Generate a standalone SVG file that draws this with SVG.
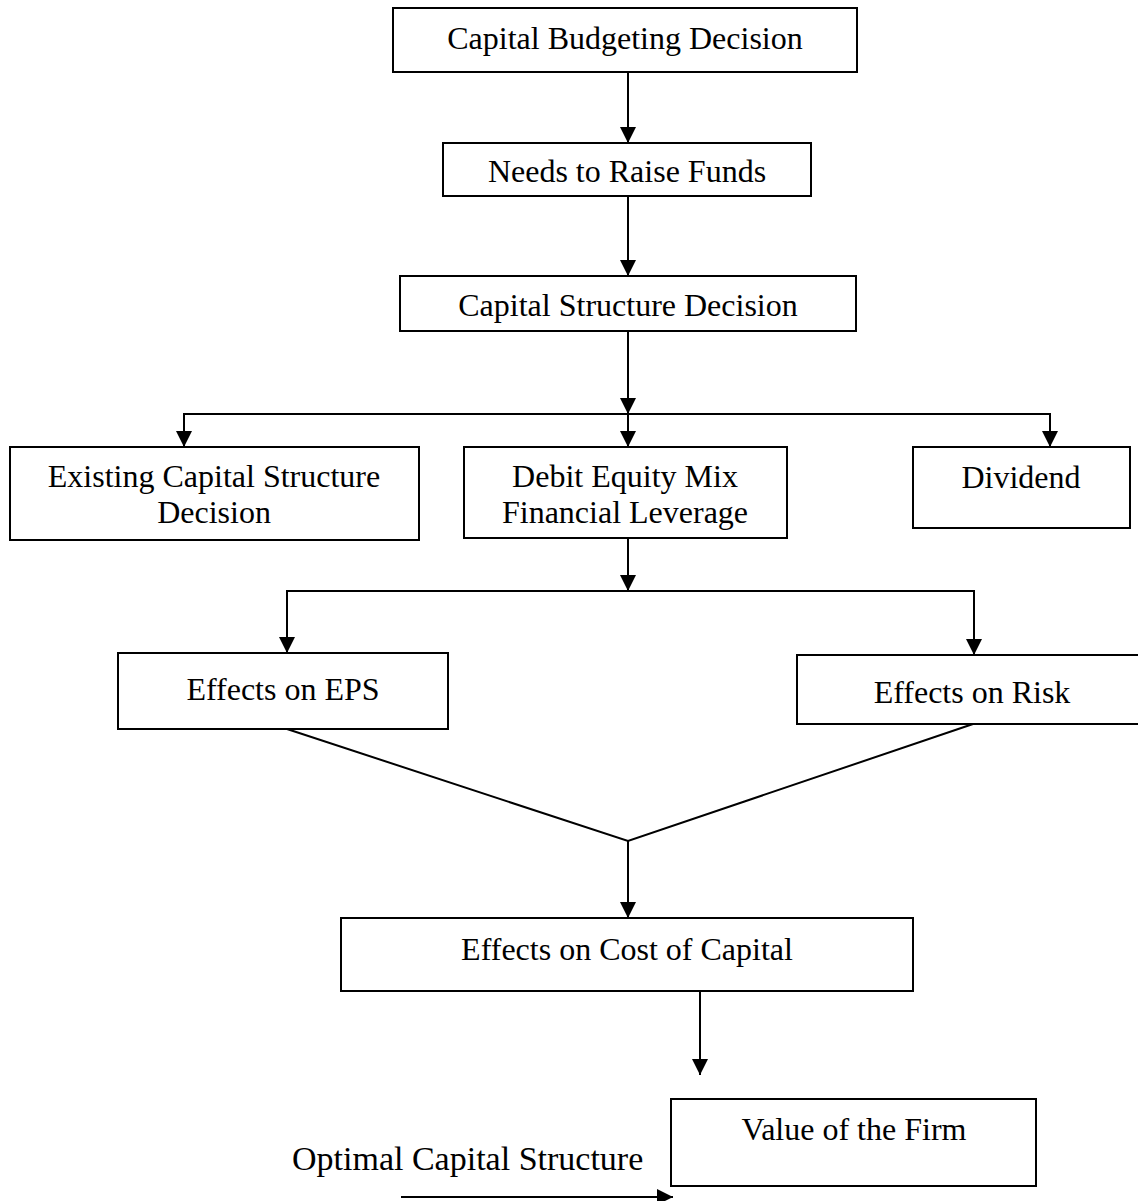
<svg xmlns="http://www.w3.org/2000/svg" width="1138" height="1201" viewBox="0 0 1138 1201">
<style>
.box{fill:#fff;stroke:#000;stroke-width:2}
.t{font-family:"Liberation Serif","Times New Roman",serif;font-size:32px;fill:#000;text-anchor:middle}
.c{fill:none;stroke:#000;stroke-width:2}
</style>
<defs>
<marker id="ah" viewBox="0 0 16 16" markerWidth="16" markerHeight="16" refX="16" refY="8" orient="auto" markerUnits="userSpaceOnUse">
<path d="M0,0 L16,8 L0,16 z" fill="#000"/>
</marker>
</defs>
<rect width="1138" height="1201" fill="#fff"/>
<g id="connectors">
<line class="c" x1="628" y1="72" x2="628" y2="143" marker-end="url(#ah)"/>
<line class="c" x1="628" y1="196" x2="628" y2="276" marker-end="url(#ah)"/>
<line class="c" x1="628" y1="331" x2="628" y2="414" marker-end="url(#ah)"/>
<line class="c" x1="183" y1="414" x2="1051" y2="414"/>
<line class="c" x1="184" y1="414" x2="184" y2="447" marker-end="url(#ah)"/>
<line class="c" x1="628" y1="414" x2="628" y2="447" marker-end="url(#ah)"/>
<line class="c" x1="1050" y1="414" x2="1050" y2="447" marker-end="url(#ah)"/>
<line class="c" x1="628" y1="538" x2="628" y2="591" marker-end="url(#ah)"/>
<line class="c" x1="286" y1="591" x2="975" y2="591"/>
<line class="c" x1="287" y1="591" x2="287" y2="653" marker-end="url(#ah)"/>
<line class="c" x1="974" y1="591" x2="974" y2="655" marker-end="url(#ah)"/>
<polyline class="c" points="287,729 628,841 973,724"/>
<line class="c" x1="628" y1="841" x2="628" y2="918" marker-end="url(#ah)"/>
<line class="c" x1="700" y1="991" x2="700" y2="1075" marker-end="url(#ah)"/>
<line class="c" x1="401" y1="1197" x2="673" y2="1197" marker-end="url(#ah)"/>
</g>
<g id="capital-budgeting">
<rect class="box" x="393" y="8" width="464" height="64"/>
<text class="t" x="625" y="49">Capital Budgeting Decision</text>
</g>
<g id="raise-funds">
<rect class="box" x="443" y="143" width="368" height="53"/>
<text class="t" x="627" y="182">Needs to Raise Funds</text>
</g>
<g id="capital-structure">
<rect class="box" x="400" y="276" width="456" height="55"/>
<text class="t" x="628" y="316">Capital Structure Decision</text>
</g>
<g id="existing">
<rect class="box" x="10" y="447" width="409" height="93"/>
<text class="t" x="214" y="487">Existing Capital Structure</text>
<text class="t" x="214" y="523">Decision</text>
</g>
<g id="debit-equity">
<rect class="box" x="464" y="447" width="323" height="91"/>
<text class="t" x="625" y="487">Debit Equity Mix</text>
<text class="t" x="625" y="523">Financial Leverage</text>
</g>
<g id="dividend">
<rect class="box" x="913" y="447" width="217" height="81"/>
<text class="t" x="1021" y="488">Dividend</text>
</g>
<g id="eps">
<rect class="box" x="118" y="653" width="330" height="76"/>
<text class="t" x="283" y="700">Effects on EPS</text>
</g>
<g id="risk">
<rect class="box" x="797" y="655" width="345" height="69"/>
<text class="t" x="972" y="703">Effects on Risk</text>
</g>
<g id="cost-of-capital">
<rect class="box" x="341" y="918" width="572" height="73"/>
<text class="t" x="627" y="960">Effects on Cost of Capital</text>
</g>
<g id="value-firm">
<rect class="box" x="671" y="1099" width="365" height="87"/>
<text class="t" x="854" y="1140">Value of the Firm</text>
</g>
<g id="optimal">
<text class="t" x="292" y="1170" style="text-anchor:start;font-size:34px">Optimal Capital Structure</text>
</g>
</svg>
